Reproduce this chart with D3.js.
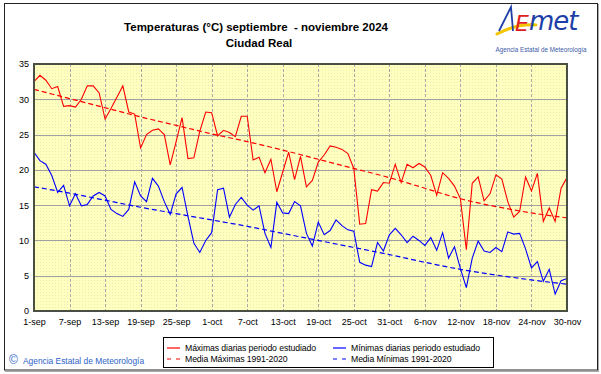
<!DOCTYPE html>
<html>
<head>
<meta charset="utf-8">
<script src="https://cdn.jsdelivr.net/npm/d3@7"></script>
<style>
  body { margin: 0; background: #fff; }
  svg { display: block; font-family: "Liberation Sans", Arial, sans-serif; }
</style>
</head>
<body>
<svg id="chart" width="601" height="374"></svg>
<script>
// daily max / min, 1-sep .. 30-nov 2024
const tmax = [32.5,33.4,32.7,31.5,31.8,29.0,29.1,28.9,30.0,31.9,31.9,30.9,27.2,28.7,30.3,31.9,28.2,27.9,23.1,25.0,
  25.6,25.8,25.0,20.7,24.0,27.4,21.6,21.7,25.5,28.2,28.1,24.8,25.6,25.3,24.7,27.6,27.6,21.4,21.8,19.6,
  21.5,16.9,19.7,22.5,18.6,21.9,17.6,18.5,21.1,22.1,23.4,23.2,22.9,22.3,20.2,12.3,12.4,17.2,17.0,18.2,
  18.1,20.8,18.2,20.8,20.3,20.9,20.4,19.2,16.4,19.6,18.8,17.7,15.9,8.7,18.1,19.0,15.6,16.6,19.3,18.7,
  15.5,13.3,14.1,19.0,17.0,19.5,12.7,14.6,12.7,17.4,18.9]
const tmin = [22.5,21.3,20.8,19.2,16.8,17.8,14.9,16.6,14.9,15.1,16.3,16.8,16.3,14.4,13.8,13.4,14.4,18.3,16.3,15.5,
  18.8,17.7,15.5,13.7,16.6,17.5,13.4,9.6,8.3,10.0,11.1,17.2,17.4,13.3,15.1,16.1,15.0,14.3,14.9,11.0,
  9.0,15.4,13.9,13.8,15.5,14.9,11.0,9.2,12.6,10.8,11.4,12.9,12.1,11.5,11.3,6.9,6.5,6.3,9.7,8.5,
  10.8,11.7,10.8,9.7,10.6,10.0,9.3,10.4,8.6,11.1,7.5,9.1,6.0,3.3,7.5,9.9,8.5,8.3,9.0,8.4,
  11.2,10.9,11.0,8.8,6.1,7.0,4.2,5.9,2.4,4.3,4.6]

// 1991-2020 normals, read every 6 days
const normDays = [0,6,12,18,24,30,36,42,48,54,60,66,72,78,84,90]
const normMax = [31.4,30.1,28.8,27.5,26.3,25.1,24.0,22.8,21.5,20.2,18.9,17.4,15.9,14.8,13.9,13.2]
const normMin = [17.6,16.7,15.7,14.7,13.8,12.9,12.0,11.0,10.0,9.0,8.0,6.9,5.9,5.1,4.4,3.8]

const tickDays = [0,6,12,18,24,30,36,42,48,54,60,66,72,78,84,90]
const tickLabels = ["1-sep","7-sep","13-sep","19-sep","25-sep","1-oct","7-oct","13-oct","19-oct","25-oct",
  "31-oct","6-nov","12-nov","18-nov","24-nov","30-nov"]
const yTicks = [0,5,10,15,20,25,30,35]

const legendItems = [
  {label: "Máximas diarias periodo estudiado", color: "#ff0000", dash: null},
  {label: "Mínimas diarias periodo estudiado", color: "#0000ff", dash: null},
  {label: "Media Máximas 1991-2020", color: "#ff0000", dash: "4,5"},
  {label: "Media Mínimas 1991-2020", color: "#0000ff", dash: "4,5"}
]

const svg = d3.select("#chart")
const plot = {left: 34, right: 567, top: 64, bottom: 311}

const x = d3.scaleLinear().domain([0, 90]).range([plot.left, plot.right])
const y = d3.scaleLinear().domain([0, 35]).range([plot.bottom, plot.top])

// outer frame
svg.append("rect").attr("x", 0).attr("y", 0).attr("width", 601).attr("height", 374).attr("fill", "#fff")
svg.append("rect").attr("x", 4.5).attr("y", 3.5).attr("width", 593).attr("height", 366.5)
  .attr("fill", "none").attr("stroke", "#222").attr("stroke-width", 1)
svg.append("line").attr("x1", 5).attr("x2", 598).attr("y1", 371.5).attr("y2", 371.5).attr("stroke", "#aaa")
svg.append("line").attr("x1", 598.5).attr("x2", 598.5).attr("y1", 4).attr("y2", 372).attr("stroke", "#aaa")

// stippled yellow plot background
const defs = svg.append("defs")
const pat = defs.append("pattern").attr("id", "dots").attr("width", 3).attr("height", 3)
  .attr("patternUnits", "userSpaceOnUse")
pat.append("rect").attr("width", 3).attr("height", 3).attr("fill", "#ffffc0")
pat.append("rect").attr("x", 1).attr("y", 1).attr("width", 1).attr("height", 1).attr("fill", "#ececb0")

svg.append("rect")
  .attr("x", plot.left).attr("y", plot.top)
  .attr("width", plot.right - plot.left).attr("height", plot.bottom - plot.top)
  .attr("fill", "url(#dots)")

// grid
svg.append("g").selectAll("line")
  .data(yTicks.filter(d => d > 0 && d < 35))
  .enter().append("line")
  .attr("x1", plot.left).attr("x2", plot.right)
  .attr("y1", d => Math.round(y(d)) + 0.5).attr("y2", d => Math.round(y(d)) + 0.5)
  .attr("stroke", "#a0a0a0")

svg.append("g").selectAll("line")
  .data(tickDays.filter(d => d > 0 && d < 90))
  .enter().append("line")
  .attr("x1", d => Math.round(x(d)) + 0.5).attr("x2", d => Math.round(x(d)) + 0.5)
  .attr("y1", plot.top).attr("y2", plot.bottom)
  .attr("stroke", "#a8a8a8").attr("stroke-dasharray", "3,2")

// axes
const yAxis = svg.append("g").attr("transform", `translate(${plot.left - 5},0)`)
  .call(d3.axisLeft(y).tickValues(yTicks).tickSize(0).tickPadding(0))
yAxis.select(".domain").remove()
yAxis.selectAll("text").attr("font-size", 9).attr("fill", "#000")
  .attr("font-family", "Liberation Sans, Arial, sans-serif")

const xAxis = svg.append("g").attr("transform", `translate(0,${plot.bottom + 8})`)
  .call(d3.axisBottom(x).tickValues(tickDays).tickSize(0).tickPadding(0)
    .tickFormat((d, i) => tickLabels[i]))
xAxis.select(".domain").remove()
xAxis.selectAll("text").attr("font-size", 9).attr("fill", "#000")
  .attr("font-family", "Liberation Sans, Arial, sans-serif")

// series
const dayLine = d3.line().x((d, i) => x(i)).y(d => y(d))
const normLine = d3.line().x((d, i) => x(normDays[i])).y(d => y(d)).curve(d3.curveMonotoneX)

svg.append("path").attr("d", normLine(normMax)).attr("fill", "none")
  .attr("stroke", "#ff0000").attr("stroke-width", 1.2).attr("stroke-dasharray", "5,3")
svg.append("path").attr("d", normLine(normMin)).attr("fill", "none")
  .attr("stroke", "#0000ff").attr("stroke-width", 1.2).attr("stroke-dasharray", "5,3")
svg.append("path").attr("d", dayLine(tmax)).attr("fill", "none")
  .attr("stroke", "#ff0000").attr("stroke-width", 1.1)
svg.append("path").attr("d", dayLine(tmin)).attr("fill", "none")
  .attr("stroke", "#0000ff").attr("stroke-width", 1.1)

// plot border
svg.append("rect")
  .attr("x", plot.left).attr("y", plot.top)
  .attr("width", plot.right - plot.left).attr("height", plot.bottom - plot.top)
  .attr("fill", "none").attr("stroke", "#4a4f44").attr("stroke-width", 2)

// title
svg.append("text").attr("x", 256).attr("y", 31).attr("text-anchor", "middle")
  .attr("font-size", 11.5).attr("font-weight", "bold").attr("fill", "#000")
  .attr("xml:space", "preserve")
  .text("Temperaturas (°C) septiembre  - noviembre 2024")
svg.append("text").attr("x", 259).attr("y", 47).attr("text-anchor", "middle")
  .attr("font-size", 11.5).attr("font-weight", "bold").attr("fill", "#000")
  .text("Ciudad Real")

// logo
const logo = svg.append("g")
logo.append("path").attr("d", "M497,34 C510,27 522,24 536,25")
  .attr("fill", "none").attr("stroke", "#f2c500").attr("stroke-width", 3).attr("stroke-linecap", "round")
logo.append("path").attr("d", "M499,31 L511,7 L513,31")
  .attr("fill", "none").attr("stroke", "#1f3fa8").attr("stroke-width", 1.8)
logo.append("text").attr("x", 515).attr("y", 31).attr("font-size", 22).attr("font-style", "italic")
  .attr("fill", "#e02020").attr("font-family", "DejaVu Sans, sans-serif").text("E")
logo.append("text").attr("x", 529).attr("y", 30).attr("font-size", 26).attr("font-style", "italic")
  .attr("fill", "#1f3fa8").attr("font-family", "DejaVu Sans, sans-serif").attr("letter-spacing", -1).text("met")
logo.append("text").attr("x", 541).attr("y", 52).attr("text-anchor", "middle").attr("font-size", 6.3)
  .attr("fill", "#3a5aa8").text("Agencia Estatal de Meteorología")

// copyright
svg.append("text").attr("x", 9).attr("y", 364).attr("font-size", 12).attr("fill", "#2d5fc8").text("©")
svg.append("text").attr("x", 23).attr("y", 363.5).attr("font-size", 8.4).attr("fill", "#2d5fc8")
  .text("Agencia Estatal de Meteorología")

// legend
const leg = svg.append("g")
leg.append("rect").attr("x", 163.5).attr("y", 337.5).attr("width", 330).attr("height", 30)
  .attr("fill", "#fff").attr("stroke", "#000")
const legCols = [167, 333]
const legRows = [348, 359]
const li = leg.selectAll("g.item").data(legendItems).enter().append("g")
  .attr("transform", (d, i) => `translate(${legCols[i % 2]},${legRows[Math.floor(i / 2)]})`)
li.append("line").attr("x1", 0).attr("x2", 13).attr("y1", 0).attr("y2", 0)
  .attr("stroke", d => d.color).attr("stroke-width", 1.2)
  .attr("stroke-dasharray", d => d.dash)
li.append("text").attr("x", 18).attr("y", 3.3).attr("font-size", 8.7).attr("letter-spacing", -0.1)
  .attr("fill", "#000")
  .text(d => d.label)
</script>
</body>
</html>
